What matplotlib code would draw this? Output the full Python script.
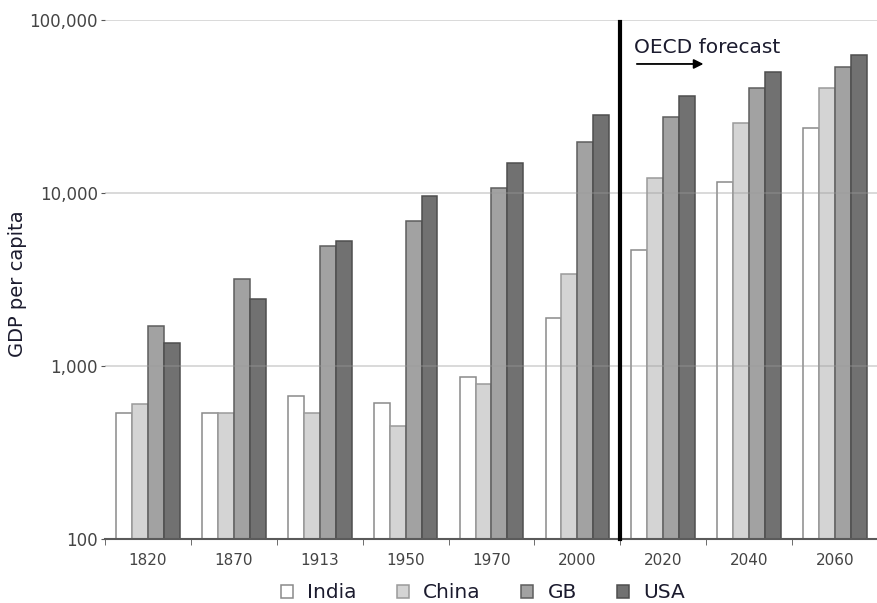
import numpy as np
import matplotlib.pyplot as plt
from matplotlib.patches import Patch
from matplotlib.ticker import FixedLocator, NullLocator

years = ['1820', '1870', '1913', '1950', '1970', '2000', '2020', '2040', '2060']
india = [535, 533, 671, 611, 864, 1894, 4690, 11600, 23800]
china = [603, 533, 535, 450, 787, 3420, 12200, 25400, 40400]
gb = [1703, 3185, 4920, 6900, 10700, 19800, 27500, 40400, 53600]
usa = [1358, 2445, 5300, 9560, 15000, 28400, 36400, 50100, 62700]
series_names = ['India', 'China', 'GB', 'USA']
yticks = [100, 1000, 10000, 100000]
ytick_labels = ['100', '1,000', '10,000', '100,000']

fills = ['#ffffff', '#d4d4d4', '#a2a2a2', '#717171']
edges = ['#8a8a8a', '#9a9a9a', '#5e5e5e', '#4e4e4e']

W, H = 878, 603
fig = plt.figure(figsize=(W / 100, H / 100), dpi=100)
ax = fig.add_axes([105 / W, (H - 539) / H, (W - 105) / W, (539 - 20) / H])

x = np.arange(len(years))
w = 0.185
for k, vals in enumerate([india, china, gb, usa]):
    ax.bar(x + (k - 1.5) * w, vals, width=w, bottom=0, color=fills[k],
           edgecolor=edges[k], linewidth=1.1, zorder=2)

ax.set_yscale('log')
ax.set_ylim(100, 100000)
ax.set_xlim(-0.5, 8.42)

# grid lines
for v in yticks[1:]:
    ax.axhline(v, color='#9a9a9a', lw=1.3, alpha=0.4, zorder=3)

# forecast divider
ax.plot([5.5, 5.5], [100, 97000], color='black', lw=3, zorder=4, clip_on=False)
ax.text(5.66, 69000, 'OECD forecast', fontsize=14.5, color='#1b1b2e',
        va='center', ha='left', zorder=5)
ax.annotate('', xy=(6.5, 55700), xytext=(5.66, 55700),
            arrowprops=dict(arrowstyle='-|>', color='black', lw=1.3,
                            mutation_scale=14), zorder=5)

ax.yaxis.set_major_locator(FixedLocator(yticks))
ax.yaxis.set_minor_locator(NullLocator())
ax.set_yticklabels(ytick_labels)
ax.tick_params(axis='y', length=3, color='#555555', labelsize=12,
               labelcolor='#444444', pad=2)

ax.set_xticks(x)
ax.set_xticklabels(years)
ax.set_xticks(np.arange(len(years) + 1) - 0.5, minor=True)
ax.tick_params(axis='x', which='major', length=0, labelsize=11,
               labelcolor='#444444', pad=10)
ax.tick_params(axis='x', which='minor', length=4, color='#555555', direction='out')

for side in ['top', 'right', 'left']:
    ax.spines[side].set_visible(False)
ax.spines['bottom'].set_color('#5a5a5a')
ax.spines['bottom'].set_linewidth(1.5)

fig.text(18 / W, 1 - 284 / H, 'GDP per capita', rotation=90, ha='center',
         va='center', fontsize=14, color='#1b1b2e')

handles = [Patch(facecolor=fills[k], edgecolor=edges[k], linewidth=1.1)
           for k in range(4)]
fig.legend(handles, series_names, loc='center', bbox_to_anchor=(483 / W, 1 - 593 / H),
           ncol=4, frameon=False, fontsize=14.5, handlelength=0.6, handleheight=0.6,
           handletextpad=0.7, columnspacing=2.0, labelcolor='#1b1b2e')

fig.savefig('out.png', dpi=100)
